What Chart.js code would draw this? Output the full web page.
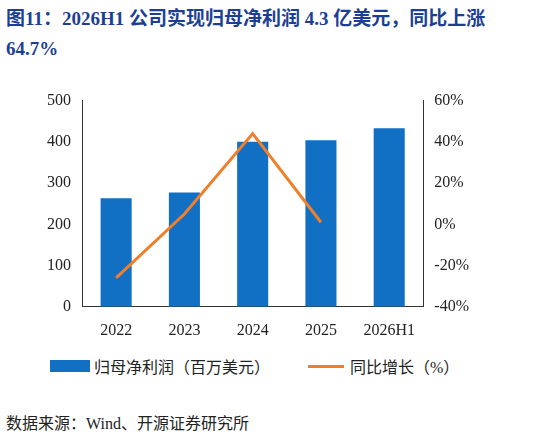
<!DOCTYPE html>
<html><head><meta charset="utf-8">
<script src="https://cdn.jsdelivr.net/npm/chart.js@4"></script>
<style>
body{margin:0;width:551px;height:437px;background:#fff;position:relative;overflow:hidden;font-family:"Liberation Serif","Noto Sans CJK SC",serif}
#title{position:absolute;left:6px;top:4px;width:518px;color:#1c3f94;font-weight:bold;font-size:19px;line-height:30px}
#wrap{position:absolute;left:0;top:88px;width:490px;height:258px}
#legend{position:absolute;top:354px;left:50px;font-size:16px;color:#222;display:flex;align-items:center}
#src{position:absolute;top:410px;left:6px;font-size:16px;color:#222}
</style></head><body>
<div id="title">图11：2026H1 公司实现归母净利润 4.3 亿美元，同比上涨 64.7%</div>
<div id="wrap"><canvas id="c"></canvas></div>
<div id="legend"><span style="display:inline-block;width:40px;height:12px;background:#1170c4;margin-right:4px"></span>归母净利润（百万美元）<span style="display:inline-block;width:36px;height:3px;background:#f07f2a;margin:0 6px 0 38px"></span>同比增长（%）</div>
<div id="src">数据来源：Wind、开源证券研究所</div>
<script>
const categories=["2022","2023","2024","2025","2026H1"];
const profit=[263,277,400,404,433];
const growth=[-26,5,44,1,null];
const leftTicks=[0,100,200,300,400,500];
const rightTicks=[-40,-20,0,20,40,60];
new Chart(document.getElementById('c'),{
data:{labels:categories,datasets:[
{type:'line',data:growth,yAxisID:'y1',borderColor:'#f07f2a',borderWidth:3,pointRadius:0,fill:false,tension:0},
{type:'bar',data:profit,yAxisID:'y',backgroundColor:'#1170c4',categoryPercentage:0.65,barPercentage:0.7}
]},
options:{responsive:true,maintainAspectRatio:false,animation:false,
layout:{padding:{top:6,right:18,left:44}},
plugins:{legend:{display:false},tooltip:{enabled:false}},
scales:{
x:{grid:{display:false},border:{color:'#333'},ticks:{color:'#222',font:{family:'Liberation Serif',size:16},padding:6}},
y:{min:0,max:500,afterBuildTicks:a=>{a.ticks=leftTicks.map(v=>({value:v}))},grid:{display:false},border:{color:'#333'},ticks:{color:'#222',font:{family:'Liberation Serif',size:16}}},
y1:{position:'right',min:-40,max:60,afterBuildTicks:a=>{a.ticks=rightTicks.map(v=>({value:v}))},grid:{display:false},border:{color:'#333'},ticks:{color:'#222',font:{family:'Liberation Serif',size:16},callback:v=>v+'%'}}
}}});
</script></body></html>
